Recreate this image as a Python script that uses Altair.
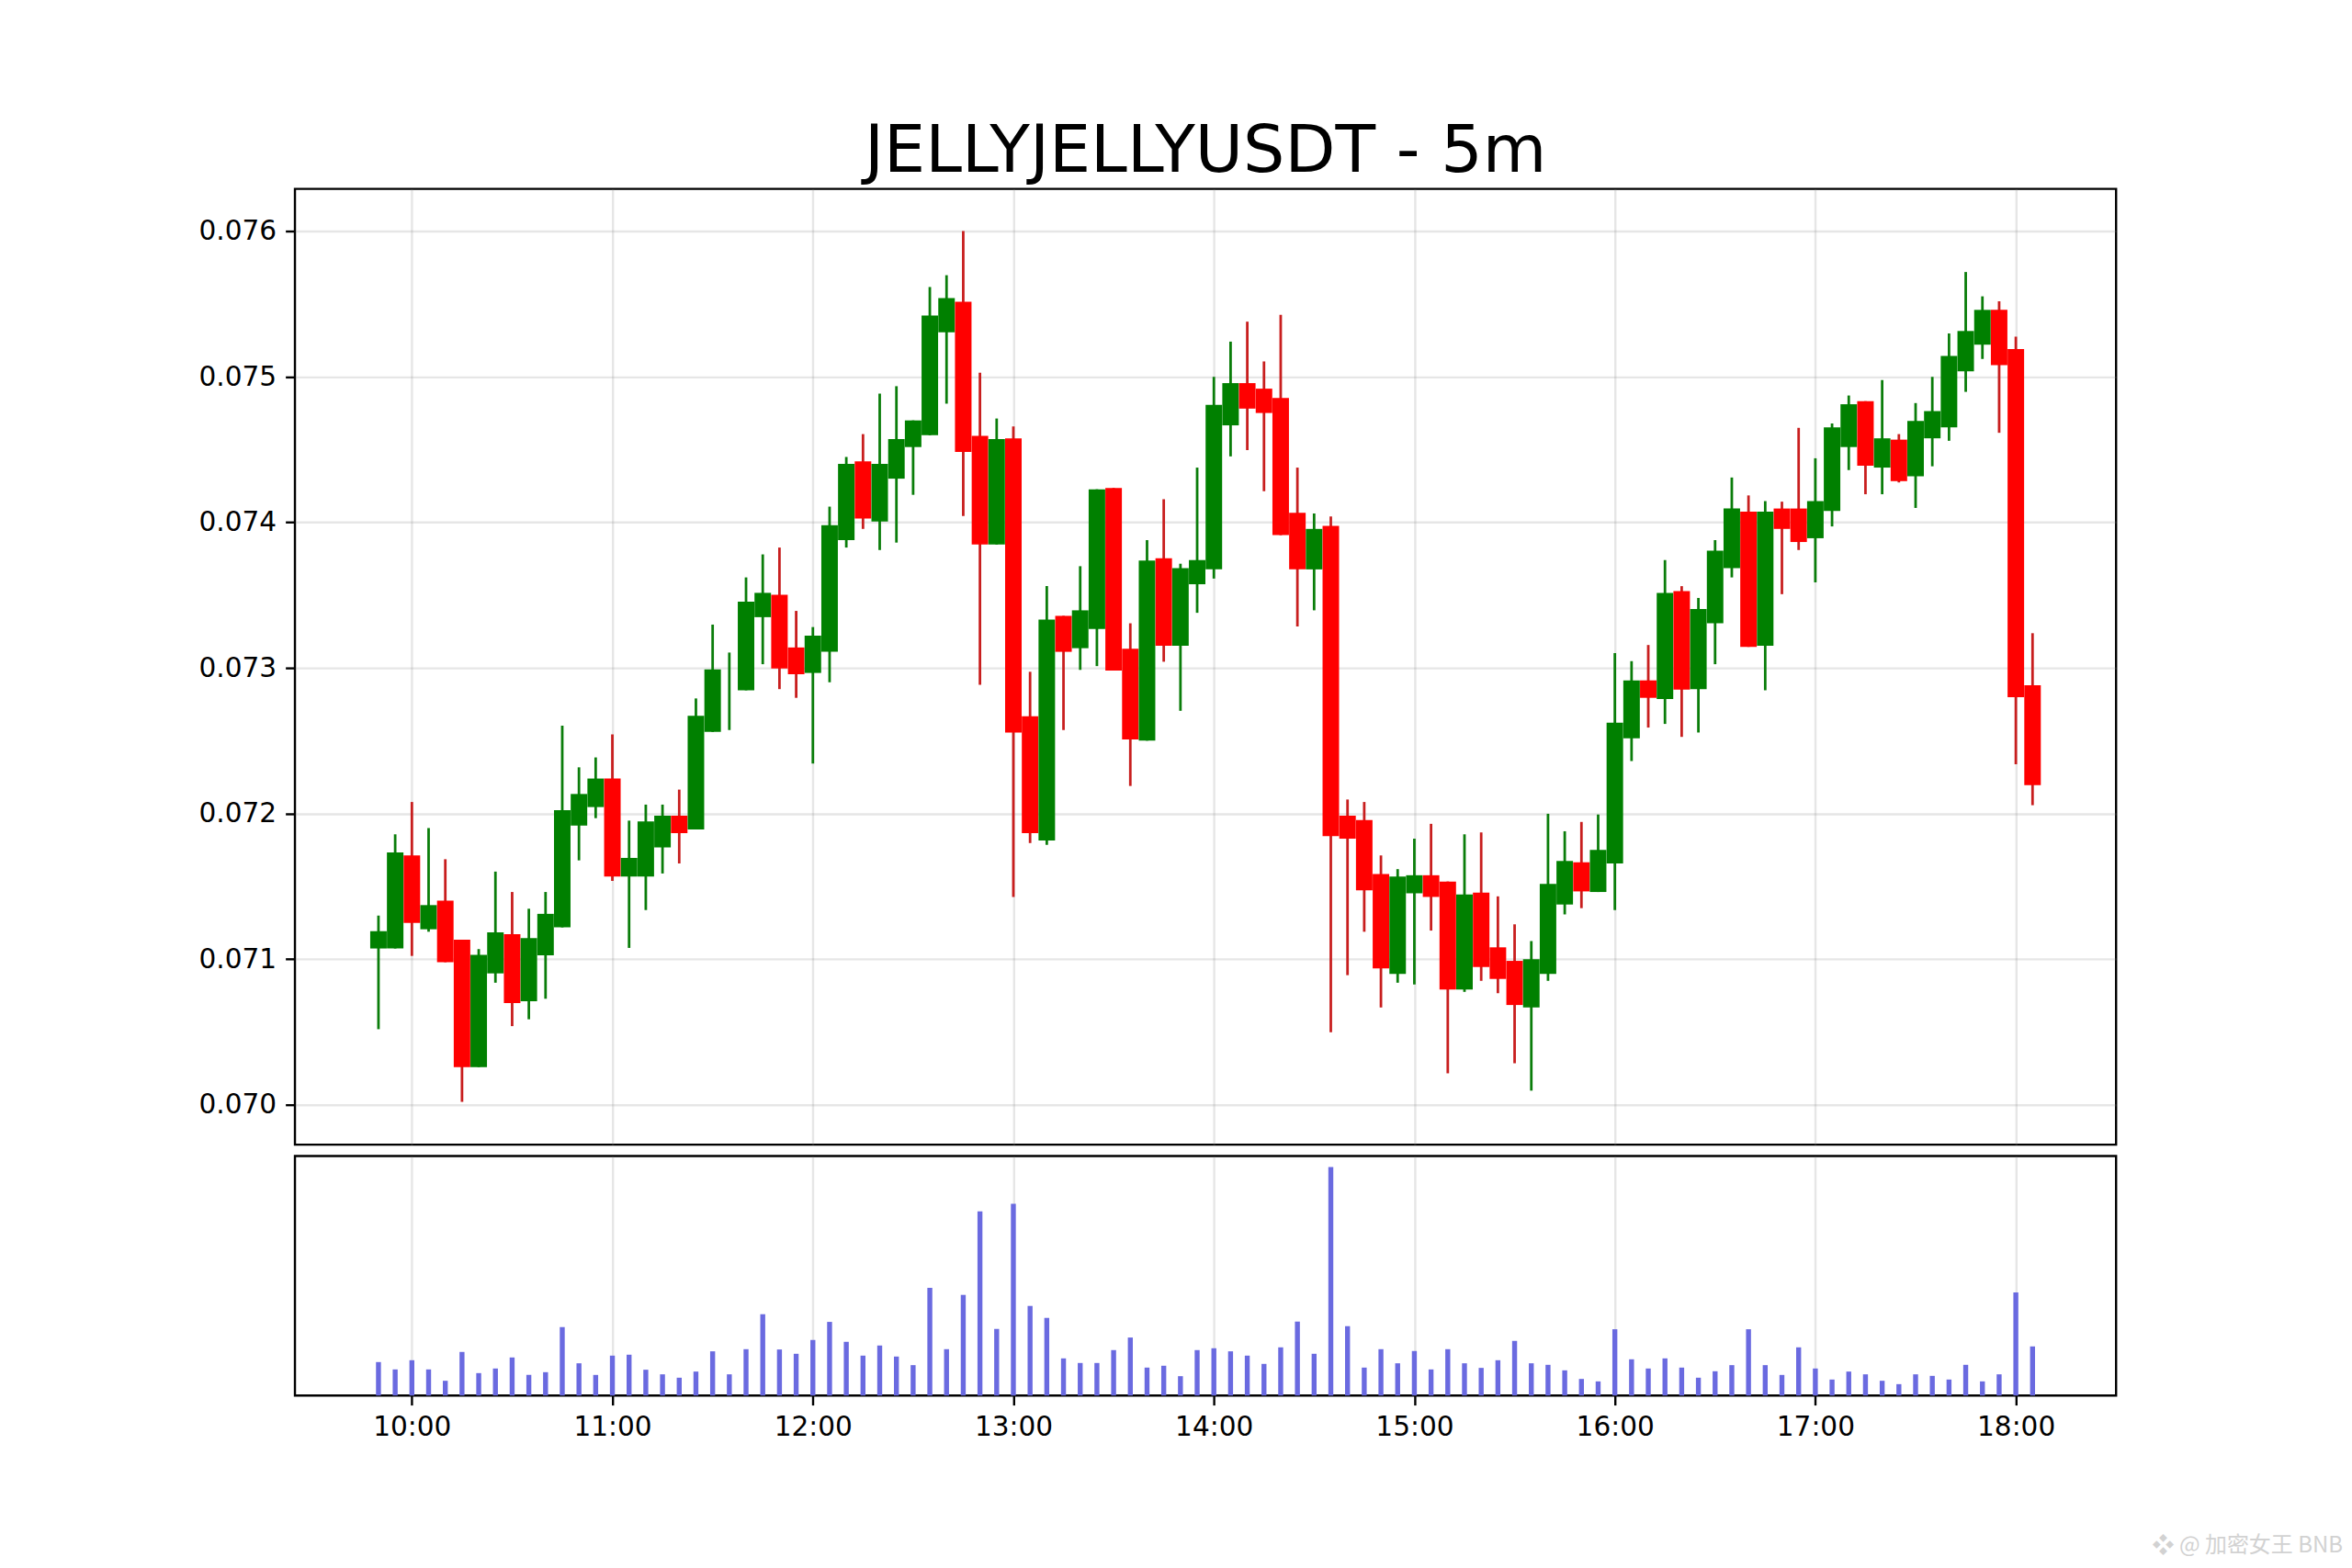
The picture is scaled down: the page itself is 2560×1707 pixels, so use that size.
import altair as alt
import pandas as pd

# prices, in thousandths of USDT: one candle every 5 minutes from 09:50 to 18:05
opens = [71.074,71.074,71.713,71.206,71.402,71.134,70.260,70.903,71.172,70.712,
         71.027,71.219,71.918,72.045,72.241,71.568,71.568,71.768,71.986,71.892,
         72.561,72.850,72.847,73.349,73.503,73.141,72.966,73.111,73.878,74.419,
         74.006,74.300,74.517,74.598,75.305,75.514,74.594,73.848,74.577,72.668,
         71.815,73.358,73.136,73.268,74.236,73.132,72.501,73.754,73.153,73.575,
         73.677,74.666,74.956,74.918,74.854,74.065,73.677,73.976,71.986,71.956,
         71.585,70.899,71.453,71.577,71.534,70.793,71.457,71.082,70.989,70.669,
         70.899,71.376,71.666,71.462,71.658,72.518,72.915,72.787,73.528,72.855,
         73.307,73.686,74.074,73.153,74.095,74.095,73.891,74.078,74.517,74.832,
         74.376,74.568,74.317,74.577,74.653,75.037,75.220,75.459,75.190,72.881]
highs = [71.300,71.858,72.080,71.901,71.687,71.134,71.070,71.602,71.462,71.347,
         71.462,72.604,72.318,72.386,72.544,71.952,72.062,72.062,72.165,72.791,
         73.298,73.106,73.622,73.780,73.827,73.392,73.281,74.108,74.449,74.606,
         74.884,74.935,74.700,75.616,75.697,76.000,75.028,74.713,74.658,72.974,
         73.562,73.358,73.699,74.227,74.236,73.307,73.878,74.159,73.716,74.376,
         74.999,75.241,75.378,75.105,75.425,74.376,74.061,74.040,72.097,72.080,
         71.713,71.619,71.828,71.930,71.534,71.858,71.871,71.432,71.240,71.125,
         71.999,71.879,71.943,71.994,73.102,73.047,73.158,73.741,73.562,73.481,
         73.878,74.308,74.185,74.146,74.142,74.649,74.440,74.679,74.871,74.832,
         74.977,74.606,74.819,74.999,75.297,75.719,75.552,75.518,75.275,73.239]
lows = [70.520,71.074,71.023,71.189,70.980,70.021,70.260,70.839,70.541,70.588,
        70.729,71.219,71.679,71.969,71.538,71.078,71.338,71.589,71.658,71.892,
        72.561,72.574,72.847,73.026,72.855,72.795,72.344,72.902,73.827,73.955,
        73.810,73.861,74.189,74.598,74.815,74.044,72.885,73.848,71.428,71.798,
        71.785,72.574,72.987,73.013,72.983,72.190,72.501,73.043,72.706,73.379,
        73.614,74.453,74.496,74.214,73.912,73.285,73.396,70.499,70.891,71.189,
        70.669,70.839,70.827,71.197,70.217,70.776,70.852,70.767,70.286,70.098,
        70.852,71.308,71.351,71.462,71.338,72.361,72.591,72.616,72.527,72.557,
        73.026,73.622,73.145,72.847,73.507,73.810,73.588,73.972,74.359,74.193,
        74.193,74.274,74.099,74.385,74.560,74.896,75.122,74.615,72.339,72.058]
closes = [71.193,71.734,71.249,71.372,70.980,70.260,71.031,71.185,70.699,71.146,
          71.312,72.024,72.135,72.241,71.568,71.696,71.947,71.986,71.866,72.672,
          72.991,72.850,73.456,73.516,72.996,72.957,73.222,73.980,74.402,74.027,
          74.402,74.572,74.700,75.420,75.540,74.483,73.848,74.572,72.557,71.866,
          73.332,73.111,73.396,74.227,72.983,72.510,73.737,73.153,73.686,73.741,
          74.807,74.956,74.781,74.751,73.912,73.677,73.955,71.845,71.828,71.474,
          70.937,71.568,71.577,71.428,70.793,71.445,70.946,70.865,70.686,71.001,
          71.517,71.675,71.466,71.751,72.625,72.915,72.795,73.516,72.851,73.405,
          73.805,74.095,73.145,74.074,73.955,73.865,74.146,74.653,74.811,74.389,
          74.577,74.283,74.696,74.764,75.143,75.314,75.459,75.079,72.800,72.195]
volumes = [109,85,115,85,48,142,73,88,124,67,76,223,105,67,130,133,84,69,58,78,
           144,69,151,265,150,136,181,240,175,130,163,127,99,351,151,328,600,217,625,292,
           253,121,106,106,148,189,91,97,63,148,154,144,130,103,157,241,136,745,226,91,
           151,105,145,85,151,105,90,115,178,105,100,82,54,46,216,118,88,121,91,58,
           79,99,216,99,67,157,88,52,78,69,48,37,69,64,52,100,46,69,336,160]
price_ticks = [0.070, 0.071, 0.072, 0.073, 0.074, 0.075, 0.076]
tick_hours = [10, 11, 12, 13, 14, 15, 16, 17, 18]
title_text = "JELLYJELLYUSDT - 5m"
watermark_text = "❖ @ 加密女王 BNB"

FONT = "DejaVu Sans"
times = pd.date_range("2025-01-01 09:50", periods=len(opens), freq="5min")
df = pd.DataFrame({
    "time": times.strftime("%Y-%m-%dT%H:%M:%S"),
    "open": [v / 1000 for v in opens],
    "high": [v / 1000 for v in highs],
    "low": [v / 1000 for v in lows],
    "close": [v / 1000 for v in closes],
    "volume": volumes,
})
df["dir"] = ["up" if c >= o else "down" for o, c in zip(df["open"], df["close"])]


def dt(h, m=0):
    return alt.DateTime(year=2025, month=1, date=1, hours=h, minutes=m)


x_scale = alt.Scale(domain=[dt(9, 25), dt(18, 30)], nice=False, padding=0)
x_values = [dt(h) for h in tick_hours]
top_x = alt.X("time:T", scale=x_scale,
              axis=alt.Axis(values=x_values, labels=False, ticks=False, title=None,
                            domain=False, grid=True))
y_scale = alt.Scale(domain=[0.069727, 0.07629], zero=False, nice=False)

wicks = alt.Chart(df).mark_rule(strokeWidth=2.8).encode(
    x=top_x,
    y=alt.Y("low:Q", scale=y_scale,
            axis=alt.Axis(values=price_ticks, format=".3f", title=None, domain=False, grid=True)),
    y2="high:Q",
    color=alt.Color("dir:N", legend=None,
                    scale=alt.Scale(domain=["up", "down"], range=["#0a7d0a", "#c81e1e"])),
)
bodies = alt.Chart(df).mark_bar(size=18).encode(
    x=alt.X("time:T", scale=x_scale),
    y=alt.Y("open:Q", scale=y_scale),
    y2="close:Q",
    color=alt.Color("dir:N", legend=None,
                    scale=alt.Scale(domain=["up", "down"], range=["#008000", "#ff0000"])),
)
top = alt.layer(wicks, bodies).resolve_scale(color="independent").properties(
    width=1984, height=1041.5,
    title=alt.TitleParams(title_text, anchor="middle", fontSize=71.5, font=FONT,
                          fontWeight="normal", color="black", offset=3),
)

vol_bars = alt.Chart(df).mark_bar(size=5.4, color="#6a6ae0").encode(
    x=alt.X("time:T", scale=x_scale,
            axis=alt.Axis(values=x_values, format="%H:%M", title=None, domain=False, grid=True,
                          labelAngle=0)),
    y=alt.Y("volume:Q", scale=alt.Scale(domain=[0, 781], nice=False), axis=None),
)
mark = alt.Chart(pd.DataFrame({"t": [watermark_text]})).mark_text(
    font="Noto Sans CJK SC", fontSize=24, color="#d2d2d2", align="right", baseline="middle",
).encode(text="t:N", x=alt.value(2231), y=alt.value(425))
bottom = alt.layer(vol_bars, mark).properties(width=1984, height=261)

chart = alt.vconcat(top, bottom, spacing=8.8).properties(
    padding={"left": 206.3, "top": 120, "right": 0, "bottom": 0},
    background="white",
).configure_view(stroke="black", strokeWidth=2.4).configure_axis(
    labelFont=FONT, labelFontSize=29.6, labelColor="black", labelPadding=10,
    tickColor="black", tickWidth=2.4, tickSize=10.4,
    gridColor="#808080", gridOpacity=0.2, gridWidth=2.4,
)

chart.save("out.html", embed_options={"renderer": "svg", "actions": False})
